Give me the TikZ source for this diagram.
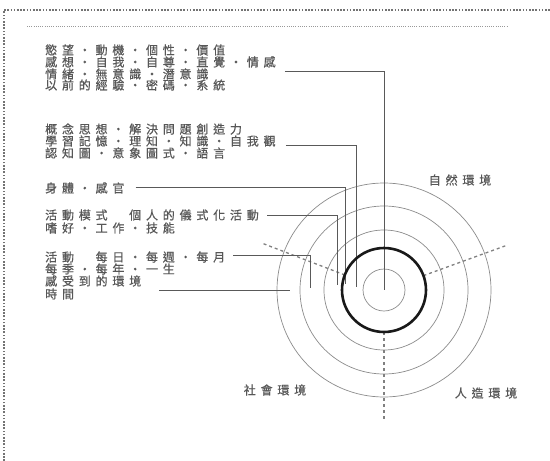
\documentclass[tikz,border=0pt]{standalone}
\usepackage{fontspec}
\newfontfamily\cjk[FakeBold=0.6]{Noto Sans CJK TC}
\newdimen\lsgap \lsgap=4.8pt
\makeatletter
\def\lsp#1{\lsp@a#1\relax}
\def\lsp@a#1{#1\lsp@b}
\def\lsp@b#1{\ifx#1\relax\else\hspace{\lsgap}#1\expandafter\lsp@b\fi}
\makeatother
\begin{document}
\begin{tikzpicture}[x=1pt,y=-1pt,
  txt/.style={anchor=west,inner sep=0pt,font=\cjk\fontsize{12}{12}\selectfont,text=black!66},
  envlbl/.style={inner sep=0pt,font=\cjk\fontsize{12}{12}\selectfont,text=black!66},
  ring/.style={draw=black!45,line width=0.7pt},
  core/.style={draw=black!90,line width=2.6pt},
  conn/.style={draw=black!65,line width=0.7pt},
  sector/.style={draw=black!50,line width=1.3pt,dash pattern=on 3pt off 3pt},
  outerdot/.style={draw=black!55,line width=1.6pt,dash pattern=on 1.6pt off 1.6pt},
  innerdot/.style={draw=black!40,line width=0.5pt,dash pattern=on 1pt off 1.2pt}]
\useasboundingbox (0,0) rectangle (550,461);
\fill[white] (0,0) rectangle (550,461);
% frame
\draw[outerdot] (4,461) -- (4,10) -- (550,10);
\draw[innerdot] (27,26) -- (507,26);
% rings
\coordinate (c) at (384,290);
\draw[ring] (c) circle[radius=21pt];
\draw[ring] (c) circle[radius=60pt];
\draw[ring] (c) circle[radius=84pt];
\draw[ring] (c) circle[radius=107pt];
% sector dividers
\draw[sector] (c) ++(159:42pt) -- ++(159:88pt);
\draw[sector] (c) ++(20:42pt) -- ++(20:88pt);
\draw[sector] (c) ++(270:42pt) -- ++(270:88pt);
% text lines
\node[txt] (l1) at (45,50) {\lsp{慾望・動機・個性・價值}};
\node[txt] (l2) at (45,62) {\lsp{感想・自我・自尊・直覺・情感}};
\node[txt] (l3) at (45,74) {\lsp{情緒・無意識・潛意識}};
\node[txt] (l4) at (45,85) {\lsp{以前的經驗・密碼・系統}};
\node[txt] (l5) at (45,129) {\lsp{概念思想・解決問題創造力}};
\node[txt] (l6) at (45,141) {\lsp{學習記憶・理知・知識・自我觀}};
\node[txt] (l7) at (45,153) {\lsp{認知圖・意象圖式・語言}};
\node[txt] (l8) at (45,188) {\lsp{身體・感官}};
\node[txt] (l9) at (45,215) {\lsp{活動模式　個人的儀式化活動}};
\node[txt] (l10) at (45,228) {\lsp{嗜好・工作・技能}};
\node[txt] (l11) at (45,257) {\lsp{活動　每日・每週・每月}};
\node[txt] (l12) at (45,269) {\lsp{每季・每年・一生}};
\node[txt] (l13) at (45,281) {\lsp{感受到的環境}};
\node[txt] (l14) at (45,294) {\lsp{時間}};
% environment labels
\node[envlbl] (nat) at (460,180) {\lsp{自然環境}};
\node[envlbl] (soc) at (275,390) {\lsp{社會環境}};
\node[envlbl] (art) at (486,393) {\lsp{人造環境}};
% connector ends
\coordinate (e1) at (384,290);
\coordinate (e2) at (356,287);
\coordinate (e3) at (345,284);
\coordinate (e4) at (337,285);
\coordinate (e5) at (310,288);
\coordinate (e6) at (290,290);
% connectors
\draw[conn] ([xshift=9pt,yshift=-9pt]l2.east) -| (e1);
\draw[conn] ([xshift=10pt,yshift=-4pt]l6.east) -| (e2);
\draw[conn] ([xshift=11pt,yshift=1pt]l8.east) -| (e3);
\draw[conn] ([xshift=8pt]l9.east) -| (e4);
\draw[conn] ([xshift=8pt,yshift=2pt]l11.east) -| (e5);
\draw[conn] ([xshift=18pt,yshift=-9pt]l13.east) -- (e6);
% core (body) circle
\draw[core] (c) circle[radius=42pt];
\end{tikzpicture}
\end{document}
